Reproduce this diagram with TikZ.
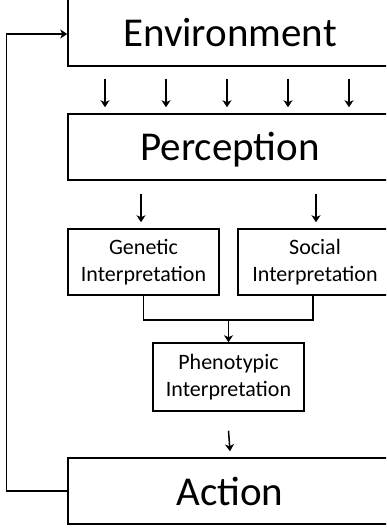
\documentclass[tikz,border=0pt]{standalone}
\usepackage{fontspec}
\setmainfont{Carlito}
\usetikzlibrary{arrows.meta,calc}

\begin{document}
\begin{tikzpicture}[x=1pt,y=-1pt,
    box/.style={draw,line width=1.5pt,inner sep=0pt},
    bigbox/.style={box,minimum width=324pt,minimum height=66pt,
      font=\fontsize{41}{49}\selectfont,text height=28pt,text depth=0pt},
    smallbox/.style={box,minimum width=151pt,minimum height=66pt,
      align=center,font=\fontsize{22}{27}\selectfont},
    link/.style={line width=1.5pt,-{Stealth[length=7pt,width=9pt,inset=2pt]}},
    wire/.style={line width=1.5pt}]
    \clip (0,0) rectangle (386,529);

    % top to bottom
    \node[bigbox,minimum height=70pt,text height=32pt] (env) at (230,31) {Environment};
    \node[bigbox] (perc) at (230,147) {Perception};
    \node[smallbox] (gen) at (143.5,262) {Genetic\\Interpretation};
    \node[smallbox,minimum width=154pt] (soc) at (315,262) {Social\\Interpretation};
    \node[smallbox,minimum height=68pt] (phen) at (228.5,377) {Phenotypic\\Interpretation};
    \node[bigbox] (act) at (230,491) {Action};

    \foreach \x in {105,166,227,288,349} {
        \draw[link] ($ (env.south -| \x,0) + (0,12) $) -- ($ (perc.north -| \x,0) + (0,-6) $);
    }

    \foreach \x/\target in {141/gen,316/soc} {
        \draw[link] ($ (perc.south -| \x,0) + (0,13) $) -- ($ (\target.north -| \x,0) + (0,-6) $);
    }

    \draw[wire] (gen.south) -- ++(0,24) coordinate (join) -| (313,295);
    \draw[link] (join -| phen.north) -- (phen.north);
    \draw[link] ($ (phen.south) + (0,19) $) -- ($ (act.north) + (0,-6) $);

    % feedback loop
    \draw[link] (act.west) -- ++(-61,0) |- ([yshift=-3pt]env.west);
\end{tikzpicture}
\end{document}
